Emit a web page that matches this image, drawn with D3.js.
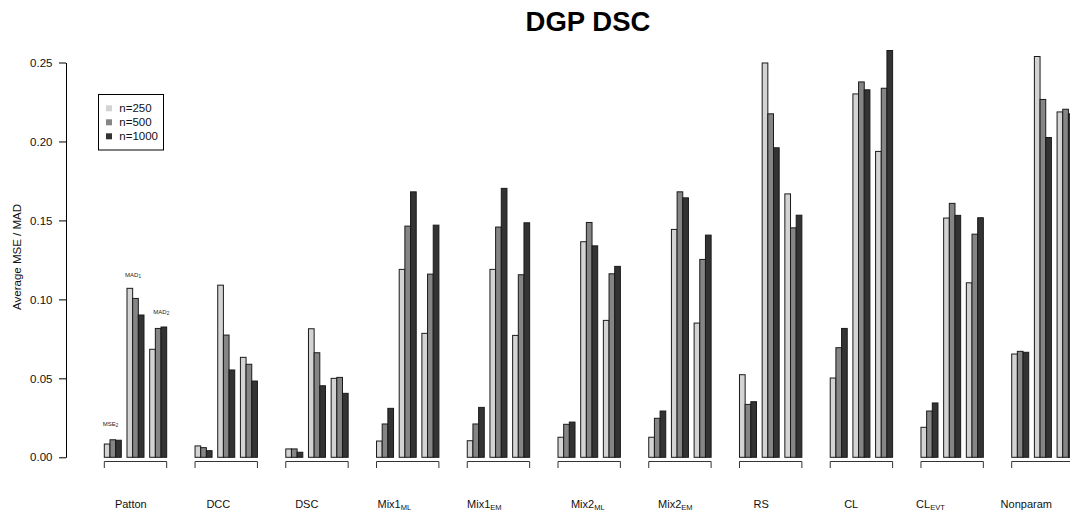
<!DOCTYPE html>
<html>
<head>
<meta charset="utf-8">
<script src="https://cdn.jsdelivr.net/npm/d3@7"></script>
<style>
  html, body { margin: 0; padding: 0; background: #fff; }
  svg { display: block; font-family: "Liberation Sans", Arial, Helvetica, sans-serif; }
</style>
</head>
<body>
<svg id="chart" width="1070" height="513"></svg>
<script>
// Model names: main text plus optional subscript
const models = ["Patton", "DCC", "DSC", "Mix1", "Mix1", "Mix2", "Mix2", "RS", "CL", "CL", "Nonparam"];
const modelSubs = ["", "", "", "ML", "EM", "ML", "EM", "", "", "EVT", ""];

// Sample sizes (legend)
const sampleSizes = ["n=250", "n=500", "n=1000"];

// Error measures shown inside every model group
const measures = ["MSE", "MAD", "MAD"];
const measureSubs = ["2", "1", "2"];

// Average MSE2 per model
const mse2_n250  = [0.0084, 0.0072, 0.0053, 0.0103, 0.0105, 0.0127, 0.0127, 0.0523, 0.0502, 0.0190, 0.0654];
const mse2_n500  = [0.0111, 0.0061, 0.0053, 0.0211, 0.0211, 0.0209, 0.0247, 0.0335, 0.0694, 0.0293, 0.0671];
const mse2_n1000 = [0.0108, 0.0042, 0.0032, 0.0310, 0.0316, 0.0223, 0.0293, 0.0352, 0.0816, 0.0344, 0.0665];

// Average MAD1 per model
const mad1_n250  = [0.1070, 0.1090, 0.0814, 0.1190, 0.1190, 0.1365, 0.1443, 0.2497, 0.2301, 0.1515, 0.2538];
const mad1_n500  = [0.1006, 0.0774, 0.0662, 0.1464, 0.1458, 0.1487, 0.1681, 0.2175, 0.2377, 0.1608, 0.2266];
const mad1_n1000 = [0.0901, 0.0553, 0.0453, 0.1681, 0.1703, 0.1339, 0.1643, 0.1960, 0.2327, 0.1532, 0.2025];

// Average MAD2 per model
const mad2_n250  = [0.0684, 0.0633, 0.0500, 0.0785, 0.0772, 0.0867, 0.0850, 0.1668, 0.1937, 0.1105, 0.2187];
const mad2_n500  = [0.0816, 0.0589, 0.0506, 0.1160, 0.1156, 0.1162, 0.1253, 0.1453, 0.2337, 0.1413, 0.2204];
const mad2_n1000 = [0.0825, 0.0483, 0.0405, 0.1470, 0.1485, 0.1209, 0.1407, 0.1533, 0.2576, 0.1517, 0.2175];

// Y axis ticks
const yTicks = [0, 0.05, 0.10, 0.15, 0.20, 0.25];

// ---- layout & style -------------------------------------------------------
const fills = ["#d3d3d3", "#858585", "#333333"];
const barsPerSet = 3, unitsPerSubgroup = 4, unitsPerGroup = 16, groupUnits = 11;
// small horizontal nudges of the model labels under each bracket
const labelNudge = [-4.7, -7.9, -10.2, -13.4, -14.1, -1.4, -4.6, -9.5, -10.2, -21.7, -16.6];

const measureSeries = [
  [mse2_n250, mse2_n500, mse2_n1000],
  [mad1_n250, mad1_n500, mad1_n1000],
  [mad2_n250, mad2_n500, mad2_n1000]
];

const svg = d3.select("#chart");

const y = d3.scaleLinear().domain([0, 0.25]).range([457.3, 62.5]);
// x measured in bar-width units
const x = d3.scaleLinear().domain([0, unitsPerGroup * (models.length - 1)]).range([104.3, 1011.7]);
const unit = x(1) - x(0);

// flatten into bar records
const bars = [];
models.forEach((m, g) => {
  measureSeries.forEach((series, s) => {
    series.forEach((arr, b) => {
      bars.push({ g, s, b, v: arr[g] });
    });
  });
});

// bars
svg.append("g").selectAll("rect").data(bars).join("rect")
  .attr("x", d => x(d.g * unitsPerGroup + d.s * unitsPerSubgroup + d.b))
  .attr("y", d => y(d.v))
  .attr("width", unit)
  .attr("height", d => y(0) - y(d.v))
  .attr("fill", d => fills[d.b])
  .attr("stroke", "#1a1a1a")
  .attr("stroke-width", 1);

// brackets under each group
const brackets = svg.append("g").attr("stroke", "#333").attr("stroke-width", 1).attr("fill", "none");
models.forEach((m, g) => {
  const x0 = x(g * unitsPerGroup), x1 = x(g * unitsPerGroup + groupUnits);
  brackets.append("path")
    .attr("d", `M${x0},468V461.5H${x1}V468`);
});

// model labels
const labels = svg.append("g").attr("font-size", 11).attr("fill", "#111").attr("text-anchor", "middle");
models.forEach((m, g) => {
  const cx = x(g * unitsPerGroup + groupUnits / 2) + labelNudge[g];
  const t = labels.append("text").attr("x", cx).attr("y", 507.5);
  t.append("tspan").text(m);
  if (modelSubs[g]) {
    t.append("tspan").attr("font-size", 7.5).attr("dy", 2.2).text(modelSubs[g]);
  }
});

// measure labels over the first group
const measureLabelY = [0.0201, 0.1144, 0.091];
const measureLabelShift = [-2.3, -2.5, 3.1];
const ml = svg.append("g").attr("font-size", 6).attr("fill", "#222").attr("text-anchor", "middle");
measures.forEach((m, s) => {
  const cx = x(s * unitsPerSubgroup + barsPerSet / 2) + measureLabelShift[s];
  const t = ml.append("text").attr("x", cx).attr("y", y(measureLabelY[s]));
  t.append("tspan").text(m);
  t.append("tspan").attr("font-size", 4.5).attr("dy", 1.5).text(measureSubs[s]);
});

// y axis
const yAxis = svg.append("g")
  .attr("transform", "translate(66,0)")
  .call(d3.axisLeft(y).tickValues(yTicks).tickFormat(d3.format(".2f")).tickSize(7).tickSizeOuter(0).tickPadding(6.5));
yAxis.select(".domain").attr("stroke", "#000");
yAxis.selectAll(".tick line").attr("stroke", "#000");
yAxis.selectAll(".tick text").attr("font-size", 11.5).attr("fill", "#111")
  .attr("font-family", "'Liberation Sans', Arial, Helvetica, sans-serif");

// y axis title
svg.append("text")
  .attr("transform", "translate(21,257) rotate(-90)")
  .attr("text-anchor", "middle")
  .attr("font-size", 11.5)
  .attr("fill", "#111")
  .text("Average MSE / MAD");

// chart title
svg.append("text")
  .attr("x", 588).attr("y", 31)
  .attr("text-anchor", "middle")
  .attr("font-size", 27.5)
  .attr("font-weight", "bold")
  .attr("fill", "#000")
  .text("DGP DSC");

// legend
const lg = svg.append("g");
lg.append("rect").attr("x", 98.5).attr("y", 94.5).attr("width", 65).attr("height", 55.5)
  .attr("fill", "#fff").attr("stroke", "#000").attr("stroke-width", 1);
sampleSizes.forEach((lab, i) => {
  const cy = 108.3 + i * 14;
  lg.append("rect").attr("x", 106).attr("y", cy - 3).attr("width", 6).attr("height", 6).attr("fill", fills[i]);
  lg.append("text").attr("x", 119.3).attr("y", cy).attr("dy", "0.35em")
    .attr("font-size", 11.5).attr("fill", "#111").text(lab);
});
</script>
</body>
</html>
